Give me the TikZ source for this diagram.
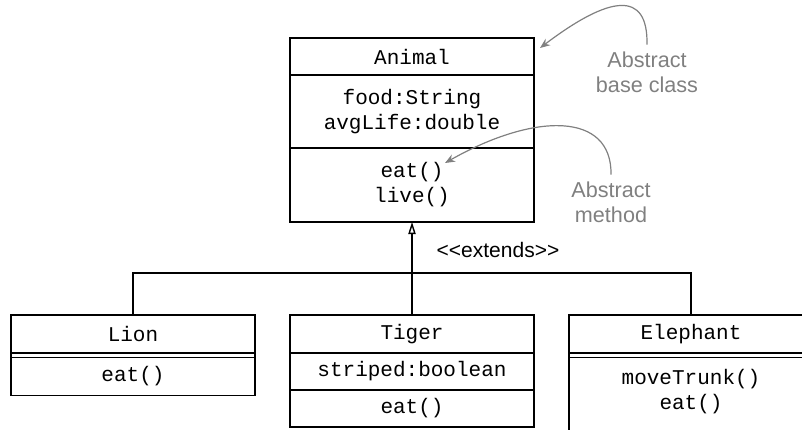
\documentclass[tikz,border=0pt]{standalone}
\usepackage{fontspec}
\setmainfont{Liberation Sans}
\setsansfont{Liberation Sans}
\setmonofont{Liberation Mono}
\usepackage{xcolor}
\usetikzlibrary{positioning,arrows.meta}
\colorlet{notegray}{black!50}

\begin{document}
\begin{tikzpicture}[x=0.5pt,y=-0.5pt]
\pgfmathsetmacro{\wi}{244}
\tikzset{
  cls/.style={draw,line width=0.7pt,minimum width=\wi*0.5pt,inner sep=0pt,
    outer sep=0pt,align=center,font=\ttfamily\fontsize{10.5}{12.5}\selectfont},
  note/.style={text=notegray,align=center,font=\sffamily\fontsize{10.8}{12.5}\selectfont},
  remark/.style={notegray,line width=0.6pt,-{Stealth[length=5pt,width=4pt]}},
}
\useasboundingbox (0,0) rectangle (802,429);
\clip (0,0) rectangle (802,429);

% base class
\node[cls,minimum height=18.5pt,anchor=north] (animal) at (412,38) {Animal};
\node[cls,minimum height=36.5pt,below=0pt of animal] (animal-a) {food:String\\avgLife:double};
\node[cls,minimum height=37pt,below=0pt of animal-a] (animal-m) {eat()\\live()};

% subclasses
\node[cls,minimum height=19pt,anchor=north] (lion) at (133,315) {Lion};
\node[cls,minimum height=2.2pt,below=0pt of lion] (lion-a) {};
\node[cls,minimum height=19pt,below=0pt of lion-a] (lion-m) {eat()};

\node[cls,minimum height=19pt,anchor=north] (tiger) at (412,315) {Tiger};
\node[cls,minimum height=18.5pt,below=0pt of tiger] (tiger-a) {striped:boolean};
\node[cls,minimum height=18.5pt,below=0pt of tiger-a] (tiger-m) {eat()};

\node[cls,minimum height=19pt,anchor=north] (eleph) at (691,315) {Elephant};
\node[cls,minimum height=2.2pt,below=0pt of eleph] (eleph-a) {};
\node[cls,text height=26pt,text depth=20pt,below=0pt of eleph-a] (eleph-m) {moveTrunk()\\eat()};

% generalization
\coordinate (bar) at (412,273);
\draw[line width=0.7pt] (lion.north) |- (bar) -| (eleph.north);
\draw[line width=0.7pt,-{Triangle[open,length=6pt,width=3.6pt]}] (tiger.north) -- (animal-m.south);
\node[font=\sffamily\fontsize{10.5}{12.5}\selectfont] (ext) at (498,250) {{<}{<}extends{>}{>}};

% remarks
\node[note] (basenote) at (647,72) {Abstract\\base class};
\node[note] (methnote) at (611,202) {Abstract\\method};
\draw[remark] (basenote.north) .. controls (648,-10) and (610,-5) .. ([shift={(6,10)}]animal.north east);
\draw[remark] (methnote.north) .. controls (612,112) and (535,112) .. ([shift={(33,15)}]animal-m.north);
\end{tikzpicture}
\end{document}
